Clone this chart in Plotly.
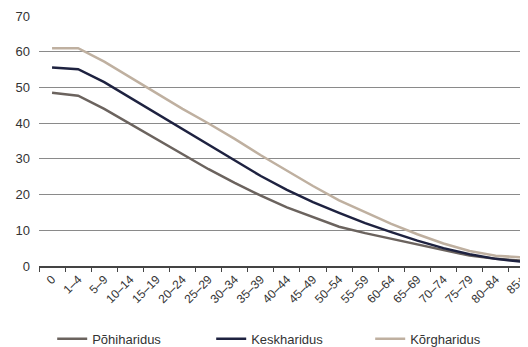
import plotly.graph_objects as go

categories = ["0", "1–4", "5–9", "10–14", "15–19", "20–24", "25–29", "30–34", "35–39",
              "40–44", "45–49", "50–54", "55–59", "60–64", "65–69", "70–74", "75–79",
              "80–84", "85+"]
pohi = [48.5, 47.7, 44.0, 39.8, 35.5, 31.3, 27.1, 23.3, 19.7, 16.4, 13.6, 11.0, 9.2,
        7.6, 6.0, 4.4, 2.9, 2.0, 1.5]
kesk = [55.6, 55.1, 51.5, 47.1, 42.6, 38.3, 33.9, 29.4, 25.2, 21.3, 17.9, 14.9, 12.0,
        9.5, 7.1, 5.0, 3.3, 2.0, 1.2]
korg = [61.0, 61.0, 57.2, 52.8, 48.3, 44.0, 39.9, 35.6, 31.0, 26.6, 22.4, 18.4, 15.0,
        11.8, 8.9, 6.3, 4.2, 2.9, 2.4]
series_names = ["Põhiharidus", "Keskharidus", "Kõrgharidus"]
y_ticks = [0, 10, 20, 30, 40, 50, 60, 70]

colors = ["#6b635e", "#1e2240", "#bfb0a0"]

fig = go.Figure()
for name, vals, col in zip(series_names, [pohi, kesk, korg], colors):
    fig.add_trace(go.Scatter(x=categories, y=vals, name=name, mode="lines",
                             line=dict(color=col, width=2.5), cliponaxis=False))

fig.update_layout(
    width=520, height=339,
    margin=dict(l=31, r=0, t=8, b=81),
    plot_bgcolor="white", paper_bgcolor="white",
    font=dict(family="Liberation Sans, Arial, sans-serif", size=13, color="#333333"),
    showlegend=True,
    legend=dict(orientation="h", xref="container", yref="container",
                x=0.085, xanchor="left", y=0.024, yanchor="middle",
                font=dict(size=13, color="#333333"), itemwidth=30,
                traceorder="normal", entrywidth=114, entrywidthmode="pixels"),
)
fig.update_xaxes(type="category", tickangle=-45, tickson="boundaries",
                 range=[-0.5, 18.24],
                 ticks="outside", ticklen=4, tickcolor="#444444",
                 showline=True, linecolor="#444444", linewidth=1.5,
                 showgrid=False, automargin=False,
                 tickfont=dict(size=12, color="#333333"))
fig.update_yaxes(range=[0, 70], tickvals=y_ticks, showgrid=True, gridcolor="#8a8a8a",
                 gridwidth=1, zeroline=False, showline=False, ticks="",
                 automargin=False, ticklabelstandoff=8,
                 tickfont=dict(size=13, color="#333333"))

fig.write_html("out.html")
